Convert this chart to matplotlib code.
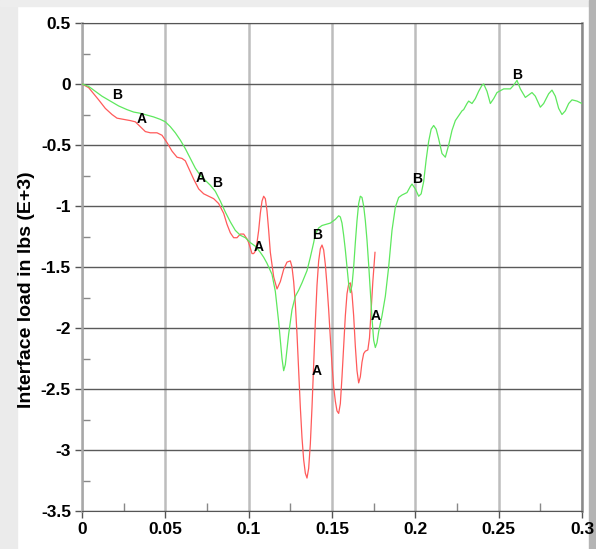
import matplotlib.pyplot as plt
from matplotlib.patches import Rectangle
from matplotlib.ticker import MultipleLocator

# curve A (red)
xa = [0, 0.004, 0.007, 0.010, 0.014, 0.018, 0.021, 0.025, 0.029, 0.032,
      0.035, 0.038, 0.041, 0.045, 0.048, 0.051, 0.054, 0.057, 0.060, 0.062,
      0.064, 0.067, 0.070, 0.073, 0.076, 0.079, 0.082, 0.085, 0.087, 0.089,
      0.091, 0.093, 0.095, 0.097, 0.099, 0.100, 0.102, 0.103, 0.104, 0.105,
      0.106, 0.107, 0.108, 0.109, 0.110, 0.111, 0.112, 0.113, 0.115, 0.117,
      0.119, 0.121, 0.123, 0.125, 0.126, 0.127, 0.128, 0.129, 0.130, 0.131,
      0.132, 0.133, 0.134, 0.135, 0.136, 0.137, 0.138, 0.139, 0.140, 0.141,
      0.142, 0.143, 0.144, 0.145, 0.146, 0.147, 0.148, 0.149, 0.150, 0.151,
      0.152, 0.153, 0.154, 0.155, 0.156, 0.157, 0.158, 0.159, 0.160, 0.161,
      0.162, 0.163, 0.164, 0.165, 0.166, 0.167, 0.168, 0.169, 0.170, 0.1715,
      0.1725, 0.1735, 0.1745, 0.1758]
ya = [0, -0.03, -0.08, -0.13, -0.20, -0.25, -0.28, -0.29, -0.30, -0.31,
      -0.35, -0.39, -0.40, -0.40, -0.42, -0.48, -0.55, -0.60, -0.61, -0.63,
      -0.69, -0.78, -0.86, -0.90, -0.92, -0.94, -0.98, -1.06, -1.15, -1.22,
      -1.26, -1.26, -1.23, -1.23, -1.27, -1.30, -1.39, -1.39, -1.37, -1.30,
      -1.20, -1.06, -0.96, -0.92, -0.94, -1.04, -1.20, -1.38, -1.58, -1.68,
      -1.62, -1.52, -1.46, -1.45, -1.50, -1.62, -1.80, -2.05, -2.35, -2.65,
      -2.90, -3.08, -3.19, -3.23, -3.15, -2.95, -2.65, -2.30, -1.95, -1.65,
      -1.45, -1.35, -1.32, -1.36, -1.48, -1.65, -1.85, -2.08, -2.30, -2.48,
      -2.60, -2.68, -2.70, -2.62, -2.40, -2.15, -1.90, -1.72, -1.64, -1.63,
      -1.72, -1.90, -2.15, -2.35, -2.45, -2.40, -2.28, -2.21, -2.19, -2.18,
      -2.08, -1.85, -1.62, -1.38]

# curve B (green)
xb = [0, 0.004, 0.007, 0.012, 0.017, 0.022, 0.027, 0.031, 0.035, 0.039,
      0.043, 0.047, 0.050, 0.053, 0.056, 0.059, 0.062, 0.065, 0.068, 0.071,
      0.074, 0.077, 0.080, 0.083, 0.086, 0.089, 0.092, 0.095, 0.098, 0.101,
      0.104, 0.107, 0.109, 0.111, 0.114, 0.116, 0.118, 0.120, 0.121, 0.122,
      0.124, 0.126, 0.128, 0.130, 0.132, 0.135, 0.137, 0.139, 0.140, 0.142,
      0.144, 0.149, 0.152, 0.154, 0.155, 0.156, 0.157, 0.158, 0.159, 0.160,
      0.161, 0.162, 0.163, 0.164, 0.165, 0.166, 0.167, 0.168, 0.169, 0.170,
      0.171, 0.172, 0.173, 0.174, 0.175, 0.176, 0.177, 0.178, 0.180, 0.182,
      0.184, 0.186, 0.188, 0.190, 0.192, 0.195, 0.197, 0.198, 0.200, 0.202,
      0.2035, 0.205, 0.2065, 0.208, 0.2095, 0.211, 0.2125, 0.214, 0.216, 0.218,
      0.220, 0.222, 0.224, 0.226, 0.228, 0.229, 0.231, 0.232, 0.234, 0.236,
      0.238, 0.240, 0.241, 0.243, 0.245, 0.247, 0.249, 0.253, 0.257, 0.259,
      0.261, 0.263, 0.266, 0.268, 0.270, 0.272, 0.275, 0.277, 0.280, 0.282,
      0.284, 0.286, 0.288, 0.290, 0.292, 0.294, 0.297, 0.300]
yb = [0, -0.02, -0.05, -0.10, -0.14, -0.18, -0.21, -0.23, -0.24, -0.255,
      -0.27, -0.29, -0.31, -0.35, -0.40, -0.46, -0.53, -0.61, -0.69, -0.75,
      -0.79, -0.83, -0.88, -0.96, -1.05, -1.13, -1.20, -1.24, -1.26, -1.30,
      -1.33, -1.38, -1.42, -1.47, -1.56, -1.70, -1.95, -2.25, -2.35, -2.30,
      -2.05, -1.85, -1.74, -1.69, -1.63, -1.53, -1.42, -1.30, -1.23, -1.18,
      -1.16, -1.14, -1.11, -1.08, -1.09, -1.14, -1.24, -1.36, -1.50, -1.64,
      -1.71, -1.65, -1.50, -1.30, -1.12, -0.98, -0.92, -0.93, -1.00, -1.12,
      -1.28, -1.48, -1.70, -1.92, -2.10, -2.16, -2.12, -2.03, -1.90, -1.74,
      -1.50, -1.20, -1.01, -0.93, -0.91, -0.89, -0.84, -0.82, -0.86, -0.92,
      -0.90, -0.80, -0.62, -0.47, -0.37, -0.34, -0.37, -0.45, -0.57, -0.60,
      -0.50, -0.38, -0.30, -0.26, -0.22, -0.21, -0.16, -0.14, -0.16, -0.12,
      -0.06, -0.01, 0.00, -0.06, -0.16, -0.12, -0.07, -0.04, -0.04, -0.01,
      0.03, -0.04, -0.11, -0.09, -0.07, -0.10, -0.19, -0.16, -0.08, -0.05,
      -0.10, -0.20, -0.25, -0.22, -0.16, -0.13, -0.14, -0.16]

# letter markers
lab_xa = [0.036, 0.071, 0.106, 0.141, 0.176]
lab_ya = [-0.29, -0.77, -1.34, -2.35, -1.90]
lab_xb = [0.021, 0.081, 0.141, 0.201, 0.261]
lab_yb = [-0.09, -0.81, -1.24, -0.78, 0.07]

plt.rcParams['font.family'] = ['Liberation Sans', 'DejaVu Sans']

fig = plt.figure(figsize=(5.96, 5.49), dpi=100)
# gray frame around the picture
fig.patches.append(Rectangle((0, 0), 17 / 596, 1, transform=fig.transFigure,
                             color='#ebebeb', zorder=-5))
fig.patches.append(Rectangle((0, 1 - 6 / 549), 1, 6 / 549, transform=fig.transFigure,
                             color='#ededed', zorder=-5))
fig.patches.append(Rectangle((589 / 596, 0), 7 / 596, 1, transform=fig.transFigure,
                             color='#b4b4b4', zorder=-5))

ax = fig.add_axes([82 / 596, 1 - 511 / 549, 500 / 596, 488 / 549])

ax.plot(xa, ya, color='#ff5a5a', lw=0.9, zorder=3)
ax.plot(xb, yb, color='#5ee85e', lw=0.9, zorder=3)

for x, y in zip(lab_xa, lab_ya):
    ax.text(x, y, 'A', ha='center', va='center', fontsize=10, fontweight='bold', zorder=4)
for x, y in zip(lab_xb, lab_yb):
    ax.text(x, y, 'B', ha='center', va='center', fontsize=10, fontweight='bold', zorder=4)

ax.set_xlim(0, 0.3)
ax.set_ylim(-3.5, 0.5)
ax.xaxis.set_minor_locator(MultipleLocator(0.025))
ax.yaxis.set_minor_locator(MultipleLocator(0.25))
ax.set_xticks([0, 0.05, 0.1, 0.15, 0.2, 0.25, 0.3])
ax.set_xticklabels(['0', '0.05', '0.1', '0.15', '0.2', '0.25', '0.3'])
ax.set_yticks([0.5, 0, -0.5, -1, -1.5, -2, -2.5, -3, -3.5])
ax.set_yticklabels(['0.5', '0', '-0.5', '-1', '-1.5', '-2', '-2.5', '-3', '-3.5'])

ax.grid(True, axis='x', which='major', color='#bdbdbd', lw=1.8)
ax.grid(True, axis='y', which='major', color='#5a5a5a', lw=1.0)

ax.tick_params(which='major', direction='out', length=5, width=1, color='#555555',
               labelsize=12.5, pad=3)
ax.tick_params(which='minor', direction='in', length=6, width=1, color='#888888')
for lbl in ax.get_xticklabels() + ax.get_yticklabels():
    lbl.set_fontweight('bold')

ax.spines['left'].set_color('#a8a8a8')
ax.spines['left'].set_linewidth(1.8)
ax.spines['right'].set_color('#8a8a8a')
ax.spines['right'].set_linewidth(1.8)
ax.spines['bottom'].set_color('#555555')
ax.spines['top'].set_color('#555555')

ax.set_ylabel('Interface load in lbs (E+3)', fontsize=14, fontweight='bold')
ax.yaxis.set_label_coords(-0.094, 0.453)

fig.savefig('out.png', dpi=100)
